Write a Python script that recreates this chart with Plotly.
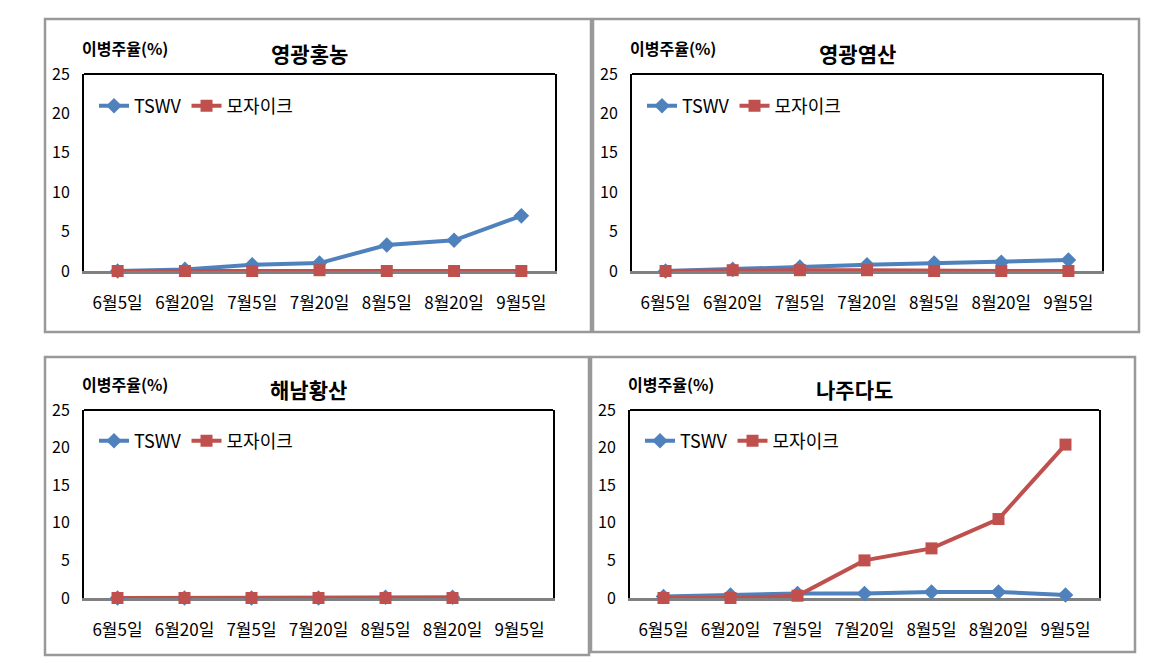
import plotly.graph_objects as go

# 페이지 body 여백(8px)을 빼고 그림 크기 설정
OFF = 8
FW, FH = 1151 - OFF, 663 - OFF

dates = ['6월5일', '6월20일', '7월5일', '7월20일', '8월5일', '8월20일', '9월5일']
sites = ['영광홍농', '영광염산', '해남황산', '나주다도']

# 이병주율(%) - 읽은 값
tswv_hongnong = [0.0, 0.2, 0.8, 1.0, 3.3, 3.9, 7.0]
mosaic_hongnong = [0.0, 0.0, 0.0, 0.1, 0.0, 0.0, 0.0]
tswv_yeomsan = [0.0, 0.2, 0.5, 0.8, 1.0, 1.1, 1.4]
mosaic_yeomsan = [0.0, 0.1, 0.1, 0.1, 0.0, 0.0, 0.0]
tswv_hwangsan = [0.0, 0.0, 0.0, 0.0, 0.1, 0.1, None]
mosaic_hwangsan = [0.0, 0.0, 0.0, 0.0, 0.0, 0.0, None]
tswv_dado = [0.2, 0.4, 0.6, 0.6, 0.8, 0.8, 0.4]
mosaic_dado = [0.0, 0.0, 0.3, 5.0, 6.6, 10.5, 20.4]

tswv_all = [tswv_hongnong, tswv_yeomsan, tswv_hwangsan, tswv_dado]
mosaic_all = [mosaic_hongnong, mosaic_yeomsan, mosaic_hwangsan, mosaic_dado]

BLUE = '#4F81BD'
RED = '#C0504D'
KR = 'Noto Sans CJK KR'

# 패널 테두리 / 플롯 영역 (화면 픽셀)
panels = [(45, 591, 19, 332), (593, 1139, 19, 332), (45, 589, 357, 655), (591, 1135, 357, 652)]
plots = [(84, 555, 74, 271), (632, 1102, 74, 271), (84, 553, 410, 598), (630, 1099, 410, 598)]
legend_y = [106, 106, 441, 441]


def px_x(v):
    return (v - OFF) / FW


def px_y(v):
    return 1 - (v - OFF) / FH


fig = go.Figure()
shapes = []
annotations = []

for i in range(4):
    n = '' if i == 0 else str(i + 1)
    x0, x1, y0, y1 = plots[i]
    lg = 'legend' + n

    fig.add_trace(go.Scatter(
        x=dates, y=tswv_all[i], name='TSWV', mode='lines+markers',
        line=dict(color=BLUE, width=4), marker=dict(symbol='diamond', size=12, color=BLUE),
        xaxis='x' + n, yaxis='y' + n, legend=lg, cliponaxis=False))
    fig.add_trace(go.Scatter(
        x=dates, y=mosaic_all[i], name='모자이크', mode='lines+markers',
        line=dict(color=RED, width=4), marker=dict(symbol='square', size=12, color=RED),
        xaxis='x' + n, yaxis='y' + n, legend=lg, cliponaxis=False))

    fig.layout['xaxis' + n] = dict(
        domain=[px_x(x0), px_x(x1)], anchor='y' + n, type='category', automargin=False,
        range=[-0.5, 6.5], showgrid=False, zeroline=False,
        showline=True, linecolor='#808080', linewidth=3, layer='below traces',
        ticks='', ticklabelstandoff=15, tickfont=dict(family=KR, size=17, color='#000'))
    fig.layout['yaxis' + n] = dict(
        domain=[px_y(y1), px_y(y0)], anchor='x' + n, range=[0, 25], dtick=5, automargin=False,
        showgrid=False, zeroline=False, showline=True, linecolor='#000', linewidth=2,
        mirror=True, layer='below traces', ticks='', ticklabelstandoff=9,
        tickfont=dict(family=KR, size=16, color='#000'))
    fig.layout[lg] = dict(
        x=px_x(x0 + 10), y=px_y(legend_y[i]), xanchor='left', yanchor='middle',
        orientation='h', bgcolor='rgba(0,0,0,0)', itemwidth=30,
        tracegroupgap=0, font=dict(family=KR, size=18, color='#000'))

    # 플롯 영역 윗선
    shapes.append(dict(type='line', xref='x' + n + ' domain', yref='y' + n + ' domain',
                       x0=0, x1=1, y0=1, y1=1, line=dict(color='#000', width=2)))
    # 패널 테두리
    bx0, bx1, by0, by1 = panels[i]
    shapes.append(dict(type='rect', xref='paper', yref='paper',
                       x0=px_x(bx0), x1=px_x(bx1), y0=px_y(by1), y1=px_y(by0),
                       line=dict(color='#999', width=2.5), layer='below'))

    annotations.append(dict(text='<b>' + sites[i] + '</b>', xref='paper', yref='paper',
                            x=px_x((x0 + x1) / 2 - 10), y=px_y(y0 - 21),
                            xanchor='center', yanchor='middle', showarrow=False,
                            font=dict(family=KR, size=21, color='#000')))
    annotations.append(dict(text='<b>이병주율(%)</b>', xref='paper', yref='paper',
                            x=px_x(x0 - 4), y=px_y(y0 - 26),
                            xanchor='left', yanchor='middle', showarrow=False,
                            font=dict(family=KR, size=16, color='#000')))

fig.update_layout(
    template='none', width=FW, height=FH, margin=dict(l=0, r=0, t=0, b=0, autoexpand=False),
    paper_bgcolor='white', plot_bgcolor='white',
    shapes=shapes, annotations=annotations, showlegend=True)

fig.write_html("out.html")
